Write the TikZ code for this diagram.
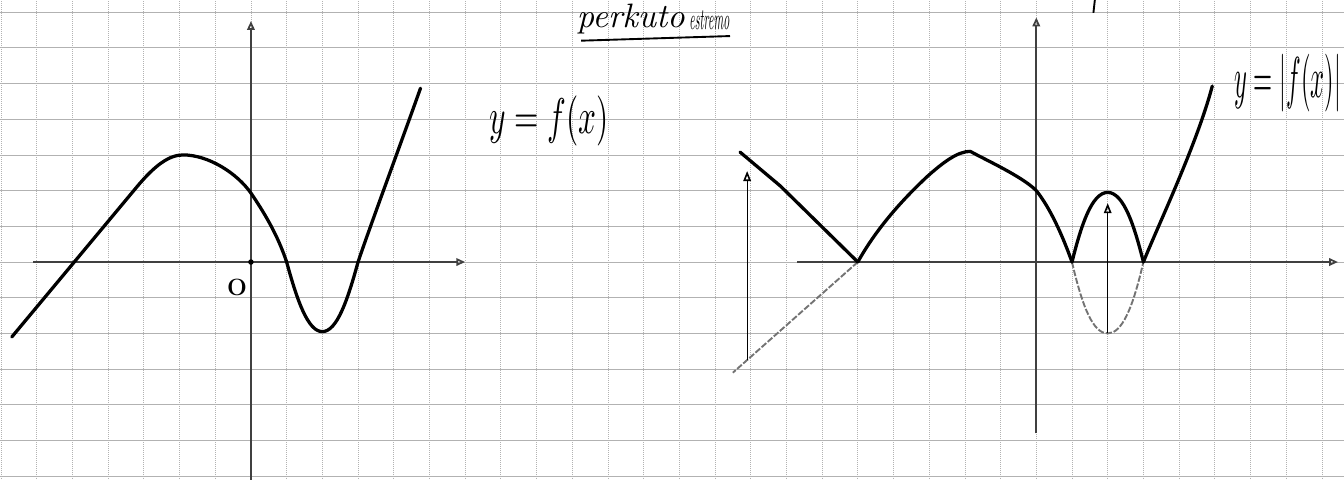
\documentclass[tikz,border=0pt]{standalone}
\usetikzlibrary{arrows.meta}
\begin{document}
\begin{tikzpicture}[
  gridh/.style={gray!60, line width=0.55pt},
  gridv/.style={gray!60, line width=0.6pt, densely dotted},
  axis/.style={black!75, line width=1.4pt, -{Triangle[open,length=7pt,width=6pt]}},
  curve/.style={black, line width=2.6pt, line cap=round, line join=round},
  ghost/.style={black!55, line width=1.5pt, dash pattern=on 5pt off 1.5pt},
  refl/.style={black, line width=1pt, -{Triangle[open,length=8pt,width=6pt,line width=1.3pt]}},
  hand/.style={inner sep=0pt, font=\itshape}
]
\useasboundingbox (-7.03,-6.08) rectangle (30.62,7.34);
\fill[white] (-7.03,-6.08) rectangle (30.62,7.34);
% grid
\foreach \x in {-7,...,30} \draw[gridv] (\x,-6.08) -- (\x,7.34);
\foreach \y in {-6,...,7} \draw[gridh] (-7.03,\y) -- (30.62,\y);

% ---------- left graph: y = f(x)
\coordinate (LxS) at (-6.1,0);
\coordinate (LxE) at (6.0,0);
\coordinate (LyS) at (0,-6.1);
\coordinate (LyE) at (0,6.75);
\coordinate (LO) at (0,0);
\draw[axis] (LxS) -- (LxE);
\draw[axis] (LyS) -- (LyE);
\fill (LO) circle (2.2pt);
\node[font=\Large\bfseries, scale=1.3] (Olab) at (-0.39,-0.72) {O};
\draw[curve] (-6.7,-2.1) -- (-3.2,2.1)
  .. controls (-2.7,2.7) and (-2.3,3.0) .. (-1.9,3.0)
  .. controls (-1.2,3.0) and (-0.4,2.5) .. (0,1.93)
  .. controls (0.5,1.2) and (0.8,0.6) .. (1,0)
  .. controls (1.3,-1.1) and (1.6,-1.95) .. (2,-1.95)
  .. controls (2.4,-1.95) and (2.7,-1.1) .. (3,0)
  .. controls (3.3,0.9) and (4.3,3.6) .. (4.75,4.87);
\node[hand, xscale=2.5, yscale=4.0] (Lf) at (8.35,3.95) {$y=f(x)$};

% ---------- title
\node[hand, scale=2.7] (T1) at (10.64,6.82) {perkuto};
\node[hand, xscale=0.95, yscale=2.4] (T2) at (12.84,6.76) {estremo};
\coordinate (U1) at (9.25,6.2);
\coordinate (U2) at (13.42,6.33);
\draw[line width=1.5pt] (U1) -- (U2);

% ---------- right graph: y = |f(x)|
\begin{scope}[shift={(22,0)}]
\coordinate (RxS) at (-6.7,0);
\coordinate (RxE) at (8.45,0);
\coordinate (RyS) at (0,-4.8);
\coordinate (RyE) at (0,6.85);
\draw[axis] (RxS) -- (RxE);
\draw[axis] (RyS) -- (RyE);
% dashed original parts
\coordinate (Z1) at (-5,0);
\coordinate (D1) at (-8.5,-3.1);
\coordinate (Z2) at (1,0);
\coordinate (Z3) at (3,0);
\coordinate (Mn) at (2,-2);
\draw[ghost] (Z1) -- (D1);
\draw[ghost] (Z2) .. controls (1.3,-1.3) and (1.6,-2) .. (Mn)
  .. controls (2.4,-2) and (2.7,-1.3) .. (Z3);
% reflection arrows
\coordinate (A1s) at (-8.1,-2.75);
\coordinate (A1e) at (-8.1,2.55);
\draw[refl] (A1s) -- (A1e);
\coordinate (A2e) at (2,1.65);
\draw[refl] (Mn) -- (A2e);
% |f|
\draw[curve] (-8.3,3.08) -- (-7.17,2.13) -- (Z1);
\draw[curve] (Z1) .. controls (-4.5,0.9) and (-3.8,1.7) .. (-3.05,2.4)
  .. controls (-2.6,2.8) and (-2.2,3.1) .. (-1.85,3.1)
  .. controls (-1.4,2.85) and (-0.4,2.4) .. (0,2.0)
  .. controls (0.4,1.5) and (0.75,0.7) .. (Z2);
\draw[curve] (Z2) .. controls (1.25,1.0) and (1.55,1.95) .. (2,1.95)
  .. controls (2.45,1.95) and (2.75,1.0) .. (Z3);
\draw[curve] (Z3) .. controls (3.4,1.0) and (4.5,3.3) .. (4.93,4.93);
\node[hand, xscale=1.95, yscale=4.6, anchor=east] (Rf) at (8.55,5.0) {$y=|f(x)|$};
\end{scope}
% cut-off mark at top
\coordinate (M1) at (23.64,7.34);
\coordinate (M2) at (23.6,6.98);
\draw[line width=1.5pt] (M1) -- (M2);
\end{tikzpicture}
\end{document}
